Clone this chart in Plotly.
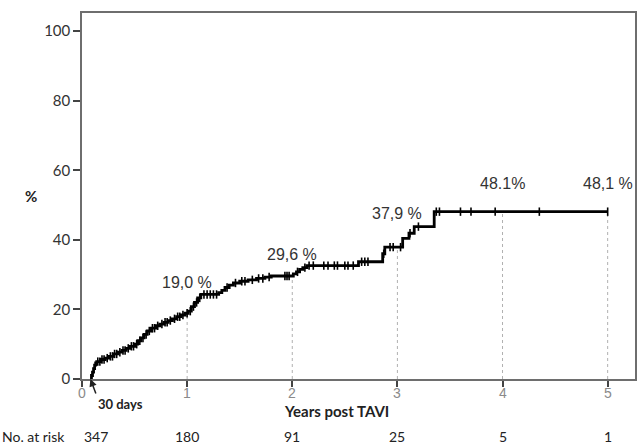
import plotly.graph_objects as go

# Kaplan-Meier style cumulative incidence (%), years post TAVI
step_times = [0.08, 0.09, 0.10, 0.11, 0.12, 0.13, 0.14, 0.18, 0.22, 0.26, 0.30, 0.34,
              0.38, 0.42, 0.46, 0.50, 0.53, 0.56, 0.59, 0.62, 0.66, 0.70, 0.74, 0.78,
              0.82, 0.86, 0.90, 0.94, 0.98, 1.01, 1.04, 1.07, 1.10, 1.13, 1.30, 1.33,
              1.36, 1.40, 1.44, 1.50, 1.58, 1.66, 1.74, 1.80, 2.01, 2.04, 2.07, 2.10,
              2.14, 2.63, 2.86, 2.88, 3.05, 3.11, 3.16, 3.35, 5.00]
step_values = [0.0, 1.0, 2.0, 3.0, 4.0, 4.6, 5.0, 5.6, 6.0, 6.5, 7.2, 7.7,
               8.2, 8.8, 9.4, 10.0, 11.0, 11.8, 12.8, 13.8, 14.6, 15.3, 15.8, 16.3,
               16.8, 17.3, 17.9, 18.4, 18.9, 19.5, 20.8, 22.0, 23.3, 24.3, 24.8, 25.5,
               26.3, 27.0, 27.6, 28.1, 28.5, 28.9, 29.3, 29.6, 30.2, 30.8, 31.5, 32.0,
               32.6, 33.7, 36.0, 37.9, 40.4, 41.9, 43.8, 48.1, 48.1]

censor_times = [0.15, 0.17, 0.19, 0.21, 0.24, 0.27, 0.29, 0.31, 0.33, 0.36, 0.39, 0.41,
                0.44, 0.47, 0.49, 0.52, 0.55, 0.58, 0.61, 0.64, 0.67, 0.69, 0.72, 0.76,
                0.79, 0.81, 0.84, 0.88, 0.91, 0.93, 0.96, 1.00, 1.03, 1.06, 1.09, 1.12,
                1.16, 1.19, 1.22, 1.25, 1.28, 1.38, 1.46, 1.52, 1.55, 1.62, 1.68, 1.72,
                1.78, 1.93, 1.95, 1.97, 2.05, 2.12, 2.16, 2.20, 2.30, 2.34, 2.40, 2.43,
                2.50, 2.53, 2.58, 2.66, 2.69, 2.72, 2.87, 2.93, 2.96, 3.03, 3.12, 3.20,
                3.37, 3.40, 3.60, 3.70, 3.93, 4.35, 5.00]

x_ticks = [0, 1, 2, 3, 4, 5]
y_ticks = [0, 20, 40, 60, 80, 100]

mark_years = [1, 2, 3, 4, 5]
mark_values = [19.0, 29.6, 37.9, 48.1, 48.1]
mark_labels = ["19,0 %", "29,6 %", "37,9 %", "48.1%", "48,1 %"]
label_yshift = [30, 22, 34, 28, 28]

risk_years = [0, 1, 2, 3, 4, 5]
at_risk = [347, 180, 91, 25, 5, 1]


def value_at(t):
    v = 0.0
    for st, sv in zip(step_times, step_values):
        if st <= t:
            v = sv
    return v


fig = go.Figure()

# dotted guide lines
gx, gy = [], []
for t, v in zip(mark_years, mark_values):
    gx += [t, t, None]
    gy += [0, v, None]
fig.add_trace(go.Scatter(x=gx, y=gy, mode="lines",
                         line=dict(color="#b0b0b0", width=1, dash="dot"),
                         hoverinfo="skip", showlegend=False))

# step curve
fig.add_trace(go.Scatter(x=step_times, y=step_values, mode="lines",
                         line=dict(color="black", width=2.8, shape="hv"),
                         showlegend=False))

# censor marks
fig.add_trace(go.Scatter(x=censor_times, y=[value_at(t) for t in censor_times],
                         mode="markers",
                         marker=dict(symbol="line-ns", size=6,
                                     line=dict(color="black", width=1.6)),
                         showlegend=False))

ann = []
for t, v, lab, ys in zip(mark_years, mark_values, mark_labels, label_yshift):
    ann.append(dict(x=t, y=v, xref="x", yref="y", text=lab, showarrow=False,
                    yshift=ys, font=dict(family="Liberation Sans, Arial", size=16, color="#333333")))

# x tick labels
for t in x_ticks:
    ann.append(dict(x=t, y=-0.038, xref="x", yref="paper", text=str(t), showarrow=False,
                    yanchor="middle",
                    font=dict(family="Liberation Sans, Arial", size=14, color="#8a8a8a")))

for i, (t, n) in enumerate(zip(risk_years, at_risk)):
    ann.append(dict(x=t, y=-0.158, xref="x", yref="paper", text=str(n), showarrow=False,
                    xshift=14 if i == 0 else 0, yanchor="middle",
                    font=dict(family="Lato", size=14, color="#222222")))

ann.append(dict(x=-0.148, y=-0.158, xref="paper", yref="paper", xanchor="left",
                text="No. at risk", showarrow=False, yanchor="middle",
                font=dict(family="Lato", size=14, color="#222222")))

ann.append(dict(x=2.5, y=-0.0874, xref="x", yref="paper", text="<b>Years post TAVI</b>",
                xshift=-8, showarrow=False, yanchor="middle",
                font=dict(family="Lato", size=15, color="#222222")))
ann.append(dict(x=-0.106, y=0.5, xref="paper", yref="paper", text="<b>%</b>",
                showarrow=False, font=dict(family="Lato", size=15, color="#222222")))

# 30 days arrow and label
ann.append(dict(x=0.08, y=0, xref="x", yref="y", text="", showarrow=True,
                ax=6, ay=16, arrowhead=2, arrowsize=1, arrowwidth=1.5,
                arrowcolor="#222222"))
ann.append(dict(x=0.08, y=0, xref="x", yref="y", text="<b>30 days</b>", showarrow=False,
                xanchor="left", yanchor="middle", xshift=6, yshift=-25,
                font=dict(family="Lato", size=13, color="#222222")))

fig.update_layout(
    width=643, height=445,
    margin=dict(l=82, r=6, t=13, b=66),
    paper_bgcolor="white", plot_bgcolor="white",
    annotations=ann,
    xaxis=dict(range=[0, 5.26], tickvals=x_ticks, showticklabels=False,
               showgrid=False, zeroline=False,
               showline=True, mirror=True, linecolor="#6e6e6e", linewidth=1.5,
               ticks="outside", ticklen=6, tickwidth=1.5, tickcolor="#444444"),
    yaxis=dict(range=[0, 105.2], tickvals=y_ticks, showgrid=False,
               zeroline=False, showline=True, mirror=True, linecolor="#6e6e6e",
               linewidth=1.5, ticks="outside", ticklen=7, tickwidth=1.5,
               tickcolor="#444444",
               tickfont=dict(family="Lato", size=15, color="#333333")),
)

fig.write_html("out.html")
